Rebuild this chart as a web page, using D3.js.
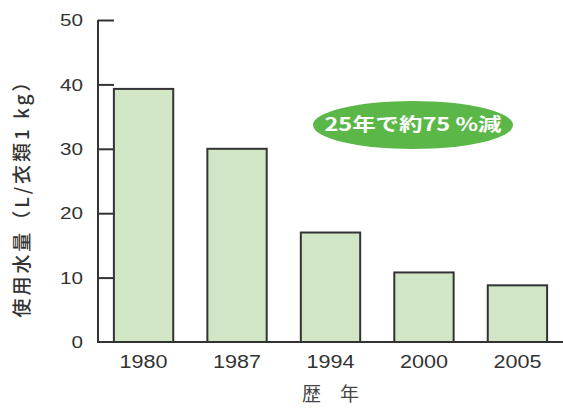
<!DOCTYPE html>
<html><head><meta charset="utf-8">
<script src="https://cdn.jsdelivr.net/npm/d3@7"></script>
<style>body{margin:0;background:#fff}svg{display:block}</style>
</head><body>
<svg id="c" width="563" height="409"></svg>
<script>
const categories = ["1980","1987","1994","2000","2005"];
const values = [39.3, 30, 17, 10.8, 8.8];
const yTicks = [0,10,20,30,40,50];
const yLabel = "使用水量（L/衣類1 kg）";
const xLabel = "歴　年";
const note = "25年で約75 %減";

const svg = d3.select("#c");
const x0 = 98, x1 = 563, yTop = 20, yBot = 342;
const x = d3.scaleBand().domain(categories).range([x0, x1]).paddingInner(0.365).paddingOuter(0.17);
const y = d3.scaleLinear().domain([0,50]).range([yBot, yTop]);
const font = "Liberation Sans, Arial, sans-serif";

// bars
svg.selectAll("rect.bar").data(values).enter().append("rect")
  .attr("x", (d,i)=>x(categories[i]))
  .attr("y", d=>y(d))
  .attr("width", x.bandwidth())
  .attr("height", d=>yBot - y(d))
  .attr("fill", "#d0e6c4")
  .attr("stroke", "#333")
  .attr("stroke-width", 2);

// y axis
const ya = svg.append("g").attr("transform", `translate(${x0},0)`)
  .call(d3.axisRight(y).tickValues(yTicks).tickSize(16).tickFormat(""));
ya.select(".domain").attr("stroke","#333").attr("stroke-width",2).attr("d", `M0,${yTop}V${yBot}`);
ya.selectAll(".tick line").attr("stroke","#333").attr("stroke-width",2);
ya.selectAll(".tick").filter(d=>d===0).select("line").remove();
svg.selectAll("text.yt").data(yTicks).enter().append("text")
  .attr("x", 83).attr("y", d=>y(d)).attr("dy","0.36em")
  .attr("text-anchor","end").attr("font-family",font).attr("font-size",17)
  .attr("textLength", d=>String(d).length*11.5).attr("lengthAdjust","spacingAndGlyphs")
  .attr("fill","#333").text(d=>d);

// x axis
const xa = svg.append("g").attr("transform", `translate(0,${yBot})`)
  .call(d3.axisBottom(x).tickSize(0).tickPadding(13));
xa.select(".domain").attr("stroke","#333").attr("stroke-width",2).attr("d", `M${x0-1},0H${x1}`);
xa.selectAll("text").attr("font-family",font).attr("font-size",18).attr("fill","#333")
  .attr("textLength",48).attr("lengthAdjust","spacingAndGlyphs");

// axis titles
svg.append("text").attr("transform","translate(22,195) rotate(-90)")
  .attr("text-anchor","middle").attr("dy","0.35em")
  .attr("font-family","Noto Sans CJK JP, sans-serif").attr("font-size",19).attr("font-weight","500")
  .attr("fill","#333").attr("textLength",245).attr("lengthAdjust","spacing").text(yLabel);
svg.append("text").attr("x", x("1994")+x.bandwidth()/2).attr("y",394).attr("dy","0.35em")
  .attr("text-anchor","middle").attr("font-family","Noto Sans CJK JP, sans-serif")
  .attr("font-size",19).attr("fill","#444").text(xLabel);

// note ellipse
svg.append("ellipse").attr("cx",413).attr("cy",125).attr("rx",100).attr("ry",24).attr("fill","#5bb848");
svg.append("text").attr("x",413).attr("y",125).attr("dy","0.35em").attr("text-anchor","middle")
  .attr("font-family","Noto Sans CJK JP, sans-serif").attr("font-weight","bold").attr("font-size",18)
  .attr("fill","#fff").attr("textLength",177).attr("lengthAdjust","spacingAndGlyphs").text(note);
</script>
</body></html>
